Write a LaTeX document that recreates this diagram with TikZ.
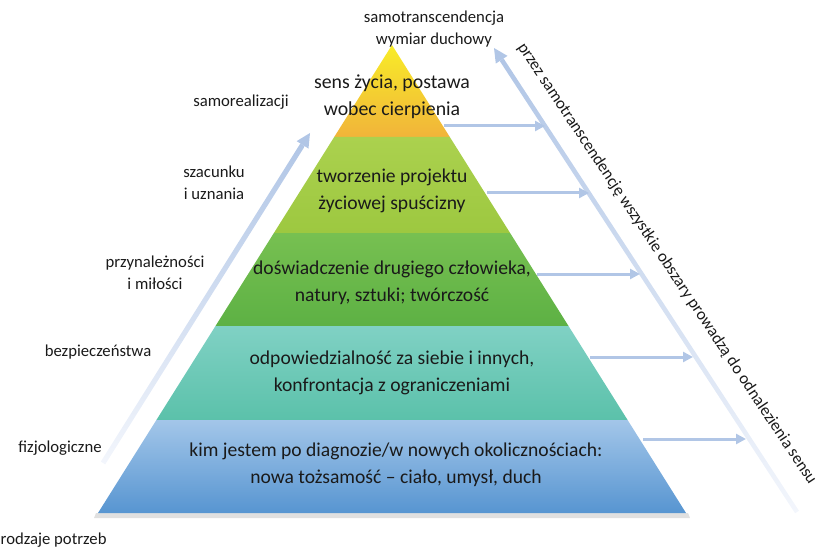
\documentclass[tikz,border=0pt]{standalone}
\usepackage{fontspec}
\setmainfont{Carlito}
\usetikzlibrary{calc,arrows.meta}
\definecolor{arrowblue}{HTML}{B1C6E6}
\definecolor{fadeblue}{HTML}{F3F6FC}
\definecolor{ytop}{HTML}{F8EC28}
\definecolor{ybot}{HTML}{F1B43A}
\definecolor{lgtop}{HTML}{ABD14E}
\definecolor{lgbot}{HTML}{9DC840}
\definecolor{gtop}{HTML}{77C051}
\definecolor{gbot}{HTML}{5DB144}
\definecolor{ttop}{HTML}{80D1C4}
\definecolor{tbot}{HTML}{5BC1AA}
\definecolor{btop}{HTML}{A3C6E9}
\definecolor{bbot}{HTML}{5795D1}
\definecolor{txt}{HTML}{1A1A1A}
\tikzset{
  x=1pt,y=-1pt,
  lvltext/.style={align=center,text=txt,font=\fontsize{19.6}{27}\selectfont},
  toptext/.style={align=center,text=txt,font=\fontsize{19.8}{27}\selectfont},
  sidetext/.style={align=center,text=txt,font=\fontsize{16.7}{22}\selectfont},
  harrow/.style={draw=arrowblue,line width=3pt,-{Triangle[length=10pt,width=10pt]}},
}
\begin{document}
\begin{tikzpicture}
\useasboundingbox (0,0) rectangle (819,548);
% pyramid shadow
\fill[black,opacity=0.12] (96,513) -- (688,513) -- (690,518) -- (94,518) -- cycle;
% levels
\shade[top color=ytop,bottom color=ybot] (392,45) -- (449.8,137) -- (334.2,137) -- cycle;
\shade[top color=lgtop,bottom color=lgbot] (334.2,137) -- (449.8,137) -- (510.1,233) -- (273.9,233) -- cycle;
\shade[top color=gtop,bottom color=gbot] (273.9,233) -- (510.1,233) -- (568.5,326) -- (215.5,326) -- cycle;
\shade[top color=ttop,bottom color=tbot] (215.5,326) -- (568.5,326) -- (627.6,420) -- (156.4,420) -- cycle;
\shade[top color=btop,bottom color=bbot] (156.4,420) -- (627.6,420) -- (686,513) -- (98,513) -- cycle;
% level texts
\node[toptext] (t1) at (392,97) {sens życia, postawa\\wobec cierpienia};
\node[lvltext] (t2) at (392,191) {tworzenie projektu\\życiowej spuścizny};
\node[lvltext] (t3) at (392,283) {doświadczenie drugiego człowieka,\\natury, sztuki; twórczość};
\node[lvltext] (t4) at (392,373) {odpowiedzialność za siebie i innych,\\konfrontacja z ograniczeniami};
\node[lvltext] (t5) at (396,465) {kim jestem po diagnozie/w nowych okolicznościach:\\nowa tożsamość – ciało, umysł, duch};
% top label
\node[sidetext] (top) at (434,29) {samotranscendencja\\wymiar duchowy};
% left labels
\node[sidetext] (s1) at (241,102) {samorealizacji};
\node[sidetext] (s2) at (214,183) {szacunku\\i uznania};
\node[sidetext] (s3) at (155,273) {przynależności\\i miłości};
\node[sidetext] (s4) at (98,352) {bezpieczeństwa};
\node[sidetext] (s5) at (60,448) {fizjologiczne};
\node[sidetext,anchor=west,inner xsep=0pt] (s6) at (0.5,540) {rodzaje potrzeb};
% left rising arrow (fading)
\coordinate (L1) at (103,463);
\coordinate (L2) at (310,133);
\coordinate (L2b) at ($(L2)!14pt!(L1)$);
\shade[top color=arrowblue,bottom color=fadeblue]
  ($(L1)!2.6pt!90:(L2)$) -- ($(L2b)!2.6pt!-90:(L1)$) -- ($(L2b)!2.6pt!90:(L1)$) -- ($(L1)!2.6pt!-90:(L2)$) -- cycle;
\fill[arrowblue] ($(L2b)!7pt!90:(L2)$) -- (L2) -- ($(L2b)!7pt!-90:(L2)$) -- cycle;
% right long arrow (fading)
\coordinate (R1) at (797,512);
\coordinate (R2) at (494,48);
\coordinate (R2b) at ($(R2)!14pt!(R1)$);
\shade[top color=arrowblue,bottom color=fadeblue]
  ($(R1)!2.3pt!90:(R2)$) -- ($(R2b)!2.3pt!-90:(R1)$) -- ($(R2b)!2.3pt!90:(R1)$) -- ($(R1)!2.3pt!-90:(R2)$) -- cycle;
\fill[arrowblue] ($(R2b)!7pt!90:(R2)$) -- (R2) -- ($(R2b)!7pt!-90:(R2)$) -- cycle;
% horizontal arrows
\coordinate (h1s) at (444,126); \coordinate (h1e) at (545,126);
\coordinate (h2s) at (487,193); \coordinate (h2e) at (589,193);
\coordinate (h3s) at (537,274); \coordinate (h3e) at (640,274);
\coordinate (h4s) at (590,357); \coordinate (h4e) at (693,357);
\coordinate (h5s) at (643,439); \coordinate (h5e) at (746,439);
\draw[harrow] (h1s) -- (h1e);
\draw[harrow] (h2s) -- (h2e);
\draw[harrow] (h3s) -- (h3e);
\draw[harrow] (h4s) -- (h4e);
\draw[harrow] (h5s) -- (h5e);
% rotated label
\node[sidetext,rotate=-56.3,inner sep=0pt] (rot) at (667,264) {przez samotranscendencję wszystkie obszary prowadzą do odnalezienia sensu};
\end{tikzpicture}
\end{document}
